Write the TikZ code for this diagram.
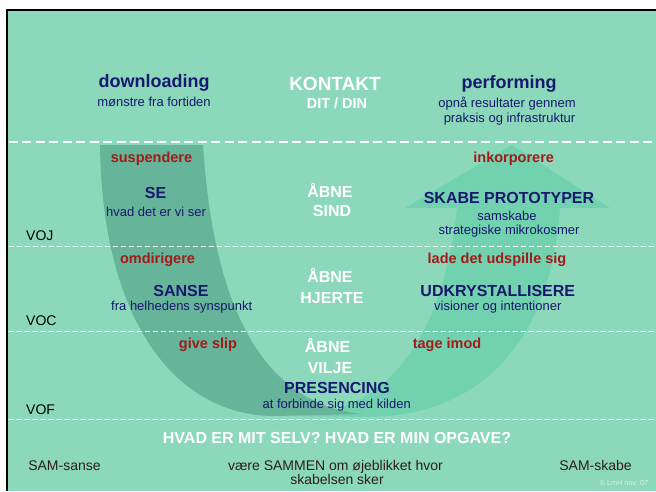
\documentclass[tikz,border=0pt]{standalone}
\usepackage{fontspec}
\setmainfont{Liberation Sans}
\definecolor{bggreen}{HTML}{8BD9BA}
\definecolor{darkband}{HTML}{66B59A}
\definecolor{midband}{HTML}{72D2AF}
\definecolor{navy}{HTML}{18186E}
\definecolor{redlab}{HTML}{A31A1A}
\definecolor{brownish}{HTML}{2E1C1C}
\definecolor{copyc}{HTML}{DDF2E9}
\tikzset{
  head/.style={anchor=base, inner sep=0pt, text=navy, font=\fontsize{18}{20}\selectfont\bfseries},
  sub/.style={anchor=base, inner sep=0pt, text=navy, font=\fontsize{13}{15}\selectfont},
  mid/.style={anchor=base, inner sep=0pt, text=navy, font=\fontsize{16}{18}\selectfont\bfseries},
  whitehead/.style={anchor=base, inner sep=0pt, text=white, font=\fontsize{16}{18}\selectfont\bfseries},
  redl/.style={anchor=base, inner sep=0pt, text=redlab, font=\fontsize{14.5}{16}\selectfont\bfseries},
  level/.style={anchor=base west, inner sep=0pt, text=black, font=\fontsize{14}{16}\selectfont},
  bottomtxt/.style={anchor=base, inner sep=0pt, text=brownish, font=\fontsize{14}{16}\selectfont},
  sepline/.style={white, line width=0.9pt, dash pattern=on 5pt off 3pt},
  topsep/.style={white, line width=1.2pt, dash pattern=on 9pt off 4.5pt}
}
\begin{document}
\begin{tikzpicture}[x=1pt,y=-1pt]
\useasboundingbox (0,0) rectangle (656,491);
\fill[white] (0,0) rectangle (656,491);
\begin{scope}
\clip (0,0) rectangle (656,491);
% slide background and frame
\fill[bggreen] (7.2,10) rectangle (656,491);
\draw[black, line width=2.4pt] (7.2,491) -- (7.2,10) -- (656,10);
% right upward arrow
\fill[midband] (290,416) -- (370,417) .. controls (490,415) and (552,330) .. (560,208)
  -- (610,208) -- (512,145) -- (405,208) -- (457,208)
  .. controls (445,320) and (400,400) .. (320,412) -- cycle;
% left downward band
\fill[darkband] (100,145) -- (203,145) .. controls (215,330) and (275,405) .. (362,414)
  -- (275,416) .. controls (175,416) and (102,320) .. (100,145) -- cycle;
% separators
\draw[topsep] (8.5,142) -- (656,142);
\draw[sepline] (8.5,246.5) -- (656,246.5);
\draw[sepline] (8.5,331.5) -- (656,331.5);
\draw[sepline] (8.5,419.5) -- (656,419.5);
\end{scope}
% top row
\node[head] (down) at (154,87) {downloading};
\node[sub] (downsub) at (154,106) {mønstre fra fortiden};
\node[anchor=base, inner sep=0pt, text=white, font=\fontsize{19}{21}\selectfont\bfseries] (kontakt) at (335,90) {KONTAKT};
\node[anchor=base, inner sep=0pt, text=white, font=\fontsize{14.5}{16}\selectfont\bfseries] (ditdin) at (337,108.5) {DIT / DIN};
\node[head] (perf) at (509,88) {performing};
\node[sub] (perfsub1) at (507,107.5) {opnå resultater gennem};
\node[sub] (perfsub2) at (509.5,122.5) {praksis og infrastruktur};
% VOJ row
\node[redl] (susp) at (151.5,162.5) {suspendere};
\node[mid] (se) at (155.5,198.3) {SE};
\node[sub] (sesub) at (156,216) {hvad det er vi ser};
\node[whitehead] (abne1) at (330,197.7) {ÅBNE};
\node[whitehead] (sind) at (332,216.7) {SIND};
\node[redl] (inkorp) at (513.7,162) {inkorporere};
\node[mid] (skabe) at (509,203.3) {SKABE PROTOTYPER};
\node[sub] (skabesub1) at (507,220) {samskabe};
\node[sub] (skabesub2) at (509,234) {strategiske mikrokosmer};
\node[level] (voj) at (26,240) {VOJ};
% VOC row
\node[redl] (omdir) at (157.5,263.5) {omdirigere};
\node[mid] (sanse) at (181,296) {SANSE};
\node[sub] (sansesub) at (181.7,310) {fra helhedens synspunkt};
\node[whitehead] (abne2) at (330,282.7) {ÅBNE};
\node[whitehead] (hjerte) at (332,303) {HJERTE};
\node[redl] (lade) at (497,263.5) {lade det udspille sig};
\node[mid] (udkr) at (497.8,296) {UDKRYSTALLISERE};
\node[sub] (udkrsub) at (497.8,310.5) {visioner og intentioner};
\node[level] (voc) at (26,325) {VOC};
% VOF row
\node[redl] (give) at (208,348) {give slip};
\node[whitehead] (abne3) at (327.6,352.7) {ÅBNE};
\node[whitehead] (vilje) at (330,373) {VILJE};
\node[mid] (pres) at (337,393) {PRESENCING};
\node[sub] (pressub) at (336.7,408) {at forbinde sig med kilden};
\node[redl] (tage) at (447,348) {tage imod};
\node[level] (vof) at (26,414) {VOF};
% bottom
\node[anchor=base, inner sep=0pt, text=white, font=\fontsize{16}{18}\selectfont\bfseries] (hvad) at (337,443.3) {HVAD ER MIT SELV? HVAD ER MIN OPGAVE?};
\node[bottomtxt] (samsanse) at (64.5,470) {SAM-sanse};
\node[bottomtxt] (vaere) at (335.4,470) {være SAMMEN om øjeblikket hvor};
\node[bottomtxt] (skabelsen) at (337,484) {skabelsen sker};
\node[bottomtxt] (samskabe) at (595.5,470) {SAM-skabe};
\node[anchor=base, inner sep=0pt, text=copyc, font=\fontsize{7.2}{8}\selectfont] (copy) at (624,485) {© LmH nov. 07};
\end{tikzpicture}
\end{document}
